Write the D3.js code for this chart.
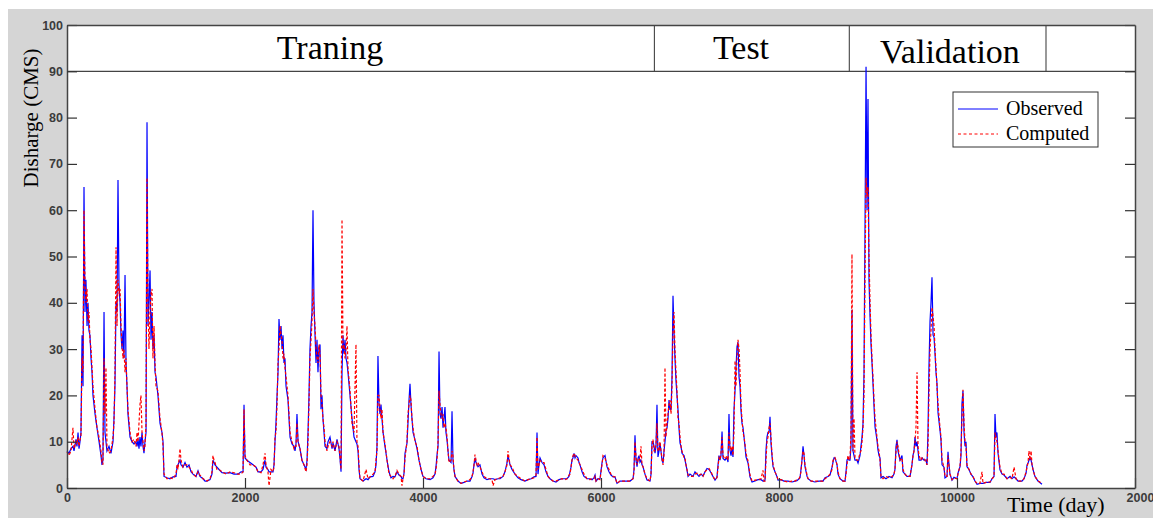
<!DOCTYPE html>
<html>
<head>
<meta charset="utf-8">
<script src="https://cdn.jsdelivr.net/npm/d3@7"></script>
<style>
  body { margin: 0; background: #fff; }
  .tick text { font-family: "Liberation Sans", Arial, sans-serif; font-weight: bold; font-size: 12.5px; fill: #3c3c3c; }
  .serif { font-family: "Liberation Serif", "Times New Roman", serif; fill: #000; }
</style>
</head>
<body>
<svg id="chart"></svg>
<script>
// Set chart dimensions
const width = 1153;
const height = 518;

// Time axis (day) of the sampled series
const days = [
  0,22,45,67,79,101,112,124,135,146,157,169,180,191,202,213,225,236,247,258,270,281,292,315,337,360,382,393,404,416,
  427,438,449,472,494,517,528,539,551,562,573,584,596,607,618,629,640,652,663,674,685,708,730,753,775,787,798,809,820,831,
  843,854,865,876,888,899,910,921,933,944,955,966,978,989,1000,1022,1045,1067,1079,1090,
  1124,1157,1191,1225,1236,1247,1270,1281,1303,1326,1348,1371,1393,1416,1449,1472,1494,1528,1551,1573,
  1607,1629,1640,1652,1663,1685,1708,1742,1787,1831,1876,1921,1955,1978,1989,2000,2022,2056,2090,2124,
  2146,2180,2202,2225,2236,2258,2270,2292,2315,2326,2337,2348,2360,2371,
  2382,2393,2405,2416,2427,2438,2449,2461,2483,2506,2528,2551,2562,2573,2584,2596,2618,2640,2663,2685,
  2697,2708,2719,2730,2742,2753,2764,2775,2787,2798,2809,2820,2831,2843,2854,2865,2876,2888,2899,2921,
  2933,2955,2978,2989,3011,3034,3056,3067,3079,3090,3101,3112,3124,3135,3146,3157,3180,3202,3225,3247,
  3258,3270,3281,3292,
  3326,3360,3382,3405,3438,3461,3472,3483,3494,3506,3517,3528,3539,3551,3573,3596,3618,3640,3663,3685,
  3708,3730,3753,3764,3775,3787,3798,3820,3831,3843,3854,3865,3876,3888,3910,3933,3955,3978,4000,4034,
  4079,4112,4135,4146,4157,4169,4180,4191,4202,4214,4225,4236,4247,4258,4270,4281,4292,4315,4326,4337,
  4348,4360,4393,4427,4461,4494,4528,4551,4562,4573,4584,4596,4607,4618,4640,4663,4685,4719,4753,4775,
  4787,4809,4843,4865,4899,4921,4944,4955,4966,4978,5000,5034,5067,5101,5146,5180,5214,5247,5270,5281,
  5292,5303,5315,5337,5360,5382,5405,5427,5461,5494,5528,5562,5596,5618,5640,5652,5663,5674,5685,5697,
  5708,5719,5742,5753,5764,5787,5809,5843,5876,5899,5921,5933,5944,5966,5989,
  6011,6022,6045,6067,6090,6112,6135,6157,6180,6214,6270,6326,6360,6371,6382,6393,6405,6416,6427,6438,
  6449,6461,6472,6494,6517,6551,6562,6573,6584,6596,6607,6618,6629,6640,6652,6663,6674,6685,6697,6708,
  6719,6730,6742,6753,6764,6775,6787,6798,6809,6820,6831,6843,6854,6865,6876,6888,6899,6910,6933,6944,
  6955,6966,6978,7000,7034,7056,7079,7101,7124,7146,7169,7191,7214,7236,7258,7281,7303,7315,7326,7337,
  7348,7360,7371,7393,7416,7427,7438,7449,7461,7472,7483,7494,7506,7517,7528,7539,7551,7562,7573,7584,
  7596,7607,7618,7629,7652,7674,7697,7730,7764,7798,7820,7831,7843,7854,7865,7876,7888,7899,7910,7921,
  7933,7955,7978,7989,8022,8056,8101,8146,8180,8202,8225,8236,8247,8258,8270,8281,8292,8315,8326,8360,
  8404,8449,8494,8517,8551,8573,8596,8607,8618,8629,8640,8652,8663,8685,8719,8742,8753,8764,8775,8787,
  8798,
  8809,8820,8831,8843,8854,8876,8888,8910,8921,8933,8944,8955,8966,8978,8989,9000,9011,9023,9034,9045,
  9056,9068,9079,9101,9112,9124,9135,9146,9169,9202,9236,9270,9292,9303,9315,9326,9337,9348,9360,9382,
  9393,9416,9438,9472,9494,9506,9517,9528,9539,9551,9562,9573,9596,9607,9629,9652,9663,9674,9685,9697,
  9708,9719,9731,9742,9753,9764,9775,9787,9809,9820,9832,9854,9865,9888,9899,9910,9921,9944,9966,10000,
  10011,10034,10045,10056,10067,10079,10090,10101,10112,10135,10157,10180,10202,10225,10258,10281,10292,10326,10371,10393,
  10416,10427,10438,10449,10461,10483,10506,10528,10562,10596,10618,10641,10663,10686,10730,10753,10776,10787,10798,10809,
  10820,10832,10843,10854,10876,10910,10955
];

// Observed discharge (CMS)
const observed = [
  8,7.5,8.5,9,8,10.5,9,12,8.5,10,12,33,22,65,38,45,35,40,34,33,28,25,20,16,13,10,7,5,6,38,
  12,10,8,9,7.5,10,15,22,40,38,66.5,44,40,33,30,34,28,46,27,22,16,11,10,9.5,10,9,10.5,8.5,11,9,
  12,9,7.5,10,12,79,35,40,47,32,38,30,33,25,24,20,14,12,10,2.5,
  2.2,2,2.4,2.5,4.5,5,6,5,4.5,5.5,4.5,5,3.5,3,2.5,3.7,2.5,2,1.5,1.5,
  1.8,3,6,5.5,5,4.5,4,3.3,3.2,3.3,3,3,3.5,3.5,18,6.5,6,5.5,5,4.5,
  3.5,3.5,4,6,4.5,4,3.5,3.5,3.5,5,10,14,20,25,
  36.5,32,35,30,33,27,28,22,19,11,9.5,9,8,9.5,16,10,8.5,6,5,4,
  6,12,20,30,35,38,60,40,33,27,32,25,30,31,17,20,15,12,9,8.5,
  10,11,8.5,9.7,8,10.5,8.5,6.5,3.5,25,33,29,32,28,27,25,20,15,11,10,
  9.5,8,4,2,
  1.5,2,1.8,2.4,2.5,3.5,5,9,28.5,18,16,18,15,12,9,6,3.5,2.2,2.5,2.4,
  3.5,2.8,2.5,2,2,3.2,7.5,9.7,14,19,22.5,18,15,12,10.4,8.5,6,4,2.5,2,
  1.8,2.2,3,4.6,7,9,29.5,16,15,17.5,13,15,17.5,12,10.4,8,6,5.5,16.6,6,
  4,2.5,1.5,1,1.2,1.5,1.5,2.5,3.2,5,6.5,5.5,5,4.6,5,3,2.2,1.8,2,2,
  2,1.8,2,2,2.5,3.5,5.4,7,6,5,4,3,2.2,1.8,1.5,1.8,2,2.4,2.5,12,
  3,5,6.5,5.5,5,3.5,2.5,2,1.5,1.3,1.8,2,2,2,2.5,3.5,4.5,6,6.5,7.5,
  6.5,7,6.5,5.5,5,3.5,2.5,2,2,1.8,2.2,2.8,1.5,2,2,
  5.4,6.5,7,4.6,3.5,2.8,2.4,2.4,1,1.5,1.5,1.5,2,4,11.4,6,4.6,6.4,7,5.6,
  6,5,4.6,3,1.7,1.5,3,10,10,9,7.5,9,18,6.7,8,9.7,8,6,5.4,8,
  10,12.5,13,15,19,17,17,24,41.5,34,28,23,20,17,13,9.7,9,7.5,7,6,
  5,3.9,2.5,3,2.5,3.5,3,2.5,3,2.6,3.5,4.2,4,3.3,2.5,1.7,2.3,5,7,6,
  7,12.2,6.4,6,6.5,5.6,16,8.2,7,8.5,6.7,16.8,21,26,30.5,31.5,24,22,16.8,14,
  13,11,9,6.7,5.4,2.4,1.3,1.5,1.8,1.8,1.5,1.5,1.7,8.2,11,12,12,15.4,9.7,7,
  4.6,3.5,2.4,1.7,1.8,1.5,1.5,1.3,1.5,1.6,2,2.2,4,6,9,7,4.6,2.5,2,1.5,
  1.3,1.5,1.5,2.2,2.5,2.8,4.5,5.6,6.5,6.5,5.8,5,3,2,1.5,1.5,3.5,6,6.5,6,
  6,
  9,38.5,8,7,6,6,5.4,7,9,11,14,24.8,55,91,60,84,45,37,31,27,
  22.6,17.5,13.2,10.4,8.2,7,6.5,2.2,2.5,2,2.5,2.2,3,4,9,10.4,8,7,6,7,
  3.5,3,2.5,2.5,5,7.1,8,11,9,10,8,6,6,6.5,6,6,5,11.9,26,36,
  40,45.5,33,32.6,29,25,22.6,16.2,12.5,10.4,5,4.5,2.2,2.5,7.8,5,3,1.7,2.3,2,
  3.2,4.6,7,18.3,21,12,9,10,4.6,4,3,2.4,1.5,0.8,1,1,1,1.2,1.2,2,
  2.5,16,11,12,7.5,3.9,3,2.8,2,2.5,2,2.4,2,1.5,1.5,2,3.2,5,5.4,6,
  6.5,6,5,4,2.5,1.5,0.8
];

// Computed discharge (CMS)
const computed = [
  7.8,7,8,13,8.5,10,9.5,11,9,10.5,11,28,25,60,45,40,43,36,38,32,30,26,22,17,13,11,8,5.5,5,28,
  16,26,9,7.5,8,11,14,25,52,35,45,42,43,35,31,28,30,25,28,22,17,12,10,10.5,9,12,10,14,18,20,
  12,10,8,9,14,67,40,30,38,42,43,28,35,27,22,21,15,12,9,3,
  2,2.2,2,3,5,4,8.5,6,4.5,5,5,4.5,4,3,2.5,3.5,2.8,2,1.8,1.5,
  2,3.5,7,6,5.5,4,4,3.5,3,3.5,3.3,3,3,3.5,17,7,6,5,5,4.5,
  3.5,3.3,5,7.5,5,3.5,0.5,4,3.5,4.5,11,12,18,27,
  30,35,33,32,28,29,26,24,20,12,10,8.5,9,9,14,10,8.5,6,5,3.5,
  5,10,18,28,32,36,43,38,35,30,28,27,31,29,20,18,15,13,10,8,
  9,10,9,10,8,10,9,7,4,58,30,31,28,30,35,26,21,14,12,31,
  10,9,5,2,
  1.5,4,2,2.4,3,3.5,6,8,20,20,17,15,17,12,9.5,6,3,2.5,2,2.5,
  3.8,3,2.5,0.5,2,3,6.5,10,16,18,20,19,15,13,10,9,6,4,2.5,2,
  2,2.5,3,4,6,10,21,18,16,15,16,13,14,13,11,8,5.5,6,8,7,
  4,2.5,1.5,1,1.3,1.5,1.8,2.5,3.5,5,7.2,6,5,5.5,4.5,3.5,2.5,2,2,1.8,
  0.5,1.8,2,2.2,2.5,3.5,5,8,6.5,5,4.5,3,2.5,2,1.5,1.8,2,2.2,2.8,11,
  4,5,6,5.5,5.5,4,2.5,2,1.5,1.5,1.8,2,1.8,2,2.8,3,4.5,6,7,7.5,
  7,6.5,6,5.5,5,4,3,2,1.8,2,2,2.5,1.5,2,1.8,
  5,7,6.5,5,4,3,2.5,2.4,1,1.5,1.5,1.5,2,3.5,10,7,5,6,6.5,6,
  9,5,4.6,3,2,1.5,3,9,10.5,8,8,9.5,14,8,8,10,8,6.5,5,7,
  26,11,14,16,18,19,16,22,34,38,30,25,21,15,14,11,9,8,6.5,6.5,
  5,4,2.8,2.5,2.5,3,3.2,2.8,3,2.5,3.5,4,4.2,3.5,2.5,1.8,2.2,4.5,6.5,6,
  7.5,11,7,6.2,7,6,12,9,8,9,7,12,27.5,22,28,32,30,25,18,15,
  12,11,9.5,7.5,5.8,2.8,1.5,1.7,1.8,2,3.8,1.5,1.5,6,10,11,13,14,11,7.5,
  5,3.5,2.5,1.8,1.8,1.5,1.3,1.5,1.5,1.8,2,2.5,3.5,6,8,7.5,5,2.8,2,1.5,
  1.5,1.5,1.5,2,2.5,3,4,6,6,6.5,6,5,3.5,2,1.5,1.5,3,5,7,6,
  6.5,
  12,50.5,8,15,6.5,6,6,7.5,8,10,13,20,45,67,63,65,50,40,33,28,
  24,19,15,11,9,8,6,2.5,2,2.5,2.2,2.5,3,4,8,10,9,7.5,6,6.5,
  4,3,2.5,2.5,5,7,8,10,13,25,9,7,6,6.5,6.5,5.5,5,9,20,30,
  34,39,37,35,30,26,22,18,13,11,6,4.5,2.5,2.5,7,5,3,1.8,2.2,2,
  3,4.8,8,15,21.2,14,10,9,5,4,3,2.5,1.5,1,1,3.5,1,1.2,1.3,2,
  2.5,12,11,10,8,4.5,3,3,2,2.3,2,4.5,2,1.5,1.5,2,3.5,4.5,5.5,8,
  6,8,5,4,2.5,1.5,1
];

// Axis ticks
const xTicks = [0, 2000, 4000, 6000, 8000, 10000, 12000];
const yTicks = [0, 10, 20, 30, 40, 50, 60, 70, 80, 90, 100];

// Phase band: divider days, label names and where each label sits
const phaseBandBottom = 90;
const phaseDividers = [6600, 8790, 11000];
const phaseNames = ["Traning", "Test", "Validation"];
const phaseLabelDay = [2955, 7573, 9921];
const phaseLabelY = [59, 59, 63];

const svg = d3.select("#chart")
    .attr("width", width)
    .attr("height", height);

// Gray page frame
svg.append("rect").attr("x", 8).attr("y", 9)
    .attr("width", width - 8).attr("height", height - 9)
    .attr("fill", "#d5d5d5");

const x = d3.scaleLinear().domain([0, 12000]).range([67, 1135]);
const y = d3.scaleLinear().domain([0, 100]).range([488, 25]);

// Plot area
svg.append("rect")
    .attr("x", x(0)).attr("y", y(100))
    .attr("width", x(12000) - x(0)).attr("height", y(0) - y(100))
    .attr("fill", "#fff");

// Phase band
svg.append("line")
    .attr("x1", x(0)).attr("x2", x(12000))
    .attr("y1", y(phaseBandBottom)).attr("y2", y(phaseBandBottom))
    .attr("stroke", "#444").attr("stroke-width", 1.3);

svg.selectAll(".divider")
    .data(phaseDividers)
    .join("line")
    .attr("class", "divider")
    .attr("x1", d => x(d)).attr("x2", d => x(d))
    .attr("y1", y(100)).attr("y2", y(phaseBandBottom))
    .attr("stroke", "#444").attr("stroke-width", 1.1);

svg.selectAll(".phase")
    .data(phaseNames)
    .join("text")
    .attr("class", "phase serif")
    .attr("x", (d, i) => x(phaseLabelDay[i]))
    .attr("y", (d, i) => phaseLabelY[i])
    .attr("text-anchor", "middle")
    .attr("font-size", 34)
    .text(d => d);

// Series
const obsData = days.map((d, i) => ({ day: d, v: observed[i] }));
const compData = days.map((d, i) => ({ day: d, v: computed[i] }));

const line = d3.line().x(d => x(d.day)).y(d => y(d.v));

svg.append("path")
    .datum(obsData)
    .attr("d", line)
    .attr("fill", "none")
    .attr("stroke", "#0000ff")
    .attr("stroke-width", 1.2);

svg.append("path")
    .datum(compData)
    .attr("d", line)
    .attr("fill", "none")
    .attr("stroke", "#ff0000")
    .attr("stroke-width", 1.2)
    .attr("stroke-dasharray", "3,2");

// Axes (ticks point inward)
const xAxis = svg.append("g")
    .attr("transform", `translate(0,${y(0)})`)
    .call(d3.axisBottom(x).tickValues(xTicks).tickSizeInner(-10).tickSizeOuter(0).tickPadding(5)
        .tickFormat(d => d === 12000 ? "2000" : d));
xAxis.selectAll(".tick").filter(d => d === 12000).select("text").attr("dx", 5);

svg.append("g")
    .attr("transform", `translate(${x(0)},0)`)
    .call(d3.axisLeft(y).tickValues(yTicks).tickSizeInner(-10).tickSizeOuter(0).tickPadding(4));

svg.append("g")
    .attr("transform", `translate(${x(12000)},0)`)
    .call(d3.axisRight(y).tickValues(yTicks).tickSizeInner(-10).tickSizeOuter(0).tickFormat(""));

svg.append("g")
    .attr("transform", `translate(0,${y(100)})`)
    .call(d3.axisTop(x).tickValues([]).tickSizeOuter(0));

svg.selectAll(".domain").attr("stroke", "#444").attr("stroke-width", 1.5);
svg.selectAll(".tick line").attr("stroke", "#333").attr("stroke-width", 1.2);

// Axis titles
svg.append("text")
    .attr("class", "serif")
    .attr("transform", "translate(38,118) rotate(-90)")
    .attr("text-anchor", "middle")
    .attr("font-size", 21)
    .text("Disharge (CMS)");

svg.append("text")
    .attr("class", "serif")
    .attr("x", 1007).attr("y", 512)
    .attr("font-size", 22)
    .text("Time (day)");

// Legend
const legend = svg.append("g").attr("transform", "translate(953,92)");
legend.append("rect")
    .attr("width", 145).attr("height", 55)
    .attr("fill", "#fff").attr("stroke", "#333").attr("stroke-width", 1);

const legendItems = [
    { name: "Observed", color: "#0000ff", dash: null, y: 17 },
    { name: "Computed", color: "#ff0000", dash: "3,2.5", y: 42 }
];

legendItems.forEach(item => {
    legend.append("line")
        .attr("x1", 5).attr("x2", 45)
        .attr("y1", item.y).attr("y2", item.y)
        .attr("stroke", item.color).attr("stroke-width", 1)
        .attr("stroke-dasharray", item.dash);
    legend.append("text")
        .attr("class", "serif")
        .attr("x", 53).attr("y", item.y + 6)
        .attr("font-size", 20)
        .text(item.name);
});
</script>
</body>
</html>
